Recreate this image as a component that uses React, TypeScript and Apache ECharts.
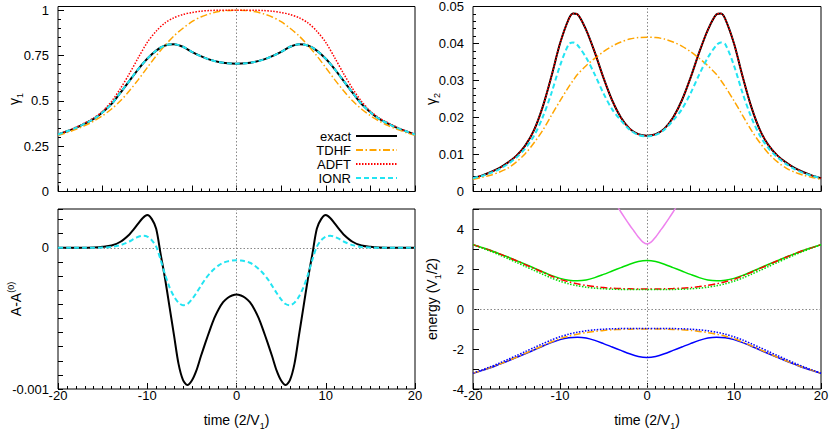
import React, { useEffect, useRef } from "react";
import * as echarts from "echarts";

const FONT = "Liberation Sans, Arial, Helvetica, sans-serif";

// ---------- time samples ----------
const timeGrid = [-20, -19, -18, -17, -16, -15, -14, -13, -12, -11, -10, -9, -8, -7, -6, -5, -4, -3, -2, -1, 0, 1, 2, 3, 4, 5, 6, 7, 8, 9, 10, 11, 12, 13, 14, 15, 16, 17, 18, 19, 20];
const timeGamma2 = [-20, -19, -18, -17, -16, -15, -14, -13, -12, -11, -10, -9, -8.5, -8, -7, -6, -5, -4, -3, -2, -1, 0, 1, 2, 3, 4, 5, 6, 7, 8, 8.5, 9, 10, 11, 12, 13, 14, 15, 16, 17, 18, 19, 20];
const timeDelta = [-20, -19, -18, -17, -16, -15, -14, -13, -12, -11.5, -11, -10.5, -10, -9.5, -9, -8.5, -8, -7.5, -7, -6.5, -6, -5.5, -5, -4.5, -4, -3.5, -3, -2.5, -2, -1.5, -1, -0.5, 0, 0.5, 1, 1.5, 2, 2.5, 3, 3.5, 4, 4.5, 5, 5.5, 6, 6.5, 7, 7.5, 8, 8.5, 9, 9.5, 10, 10.5, 11, 11.5, 12, 13, 14, 15, 16, 17, 18, 19, 20];
const timeViolet = [-3.5, -3, -2.5, -2, -1.5, -1, -0.5, 0, 0.5, 1, 1.5, 2, 2.5, 3, 3.5];

// ---------- panel 1: gamma_1 ----------
const gamma1Exact = [0.314, 0.332, 0.351, 0.374, 0.400, 0.437, 0.483, 0.545, 0.610, 0.675, 0.732, 0.777, 0.805, 0.812, 0.798, 0.770, 0.746, 0.727, 0.714, 0.707, 0.705, 0.707, 0.714, 0.727, 0.746, 0.770, 0.798, 0.812, 0.805, 0.777, 0.732, 0.675, 0.610, 0.545, 0.483, 0.437, 0.400, 0.374, 0.351, 0.332, 0.314];
const gamma1TDHF = [0.310, 0.325, 0.343, 0.363, 0.388, 0.418, 0.455, 0.500, 0.555, 0.617, 0.683, 0.748, 0.806, 0.858, 0.900, 0.936, 0.962, 0.980, 0.992, 0.998, 1.000, 0.998, 0.992, 0.980, 0.962, 0.936, 0.900, 0.858, 0.806, 0.748, 0.683, 0.617, 0.555, 0.500, 0.455, 0.418, 0.388, 0.363, 0.343, 0.325, 0.310];
const gamma1ADFT = [0.314, 0.333, 0.354, 0.378, 0.405, 0.443, 0.497, 0.568, 0.650, 0.738, 0.822, 0.884, 0.930, 0.958, 0.976, 0.987, 0.994, 0.998, 0.999, 1.000, 1.000, 1.000, 0.999, 0.998, 0.994, 0.987, 0.976, 0.958, 0.930, 0.884, 0.822, 0.738, 0.650, 0.568, 0.497, 0.443, 0.405, 0.378, 0.354, 0.333, 0.314];
const gamma1IONR = [0.314, 0.332, 0.351, 0.374, 0.400, 0.437, 0.483, 0.545, 0.610, 0.675, 0.732, 0.777, 0.805, 0.812, 0.798, 0.770, 0.746, 0.727, 0.714, 0.707, 0.705, 0.707, 0.714, 0.727, 0.746, 0.770, 0.798, 0.812, 0.805, 0.777, 0.732, 0.675, 0.610, 0.545, 0.483, 0.437, 0.400, 0.374, 0.351, 0.332, 0.314];

// ---------- panel 2: gamma_2 ----------
const gamma2Exact = [0.0036, 0.0043, 0.0052, 0.0063, 0.0078, 0.0097, 0.0124, 0.0165, 0.0228, 0.0310, 0.0400, 0.0466, 0.0481, 0.0479, 0.0437, 0.0376, 0.0307, 0.0246, 0.0200, 0.0170, 0.0155, 0.0151, 0.0155, 0.0170, 0.0200, 0.0246, 0.0307, 0.0376, 0.0437, 0.0479, 0.0481, 0.0466, 0.0400, 0.0310, 0.0228, 0.0165, 0.0124, 0.0097, 0.0078, 0.0063, 0.0052, 0.0043, 0.0036];
const gamma2TDHF = [0.0033, 0.0038, 0.0044, 0.0052, 0.0063, 0.0080, 0.0102, 0.0131, 0.0165, 0.0205, 0.0245, 0.0283, 0.0300, 0.0316, 0.0340, 0.0360, 0.0378, 0.0393, 0.0404, 0.0412, 0.0416, 0.0417, 0.0416, 0.0412, 0.0404, 0.0393, 0.0378, 0.0360, 0.0340, 0.0316, 0.0300, 0.0283, 0.0245, 0.0205, 0.0165, 0.0131, 0.0102, 0.0080, 0.0063, 0.0052, 0.0044, 0.0038, 0.0033];
const gamma2ADFT = [0.0036, 0.0043, 0.0052, 0.0063, 0.0078, 0.0097, 0.0124, 0.0165, 0.0228, 0.0310, 0.0400, 0.0466, 0.0481, 0.0479, 0.0437, 0.0376, 0.0307, 0.0246, 0.0200, 0.0170, 0.0155, 0.0151, 0.0155, 0.0170, 0.0200, 0.0246, 0.0307, 0.0376, 0.0437, 0.0479, 0.0481, 0.0466, 0.0400, 0.0310, 0.0228, 0.0165, 0.0124, 0.0097, 0.0078, 0.0063, 0.0052, 0.0043, 0.0036];
const gamma2IONR = [0.0036, 0.0042, 0.0050, 0.0060, 0.0074, 0.0092, 0.0116, 0.0150, 0.0200, 0.0265, 0.0340, 0.0398, 0.0403, 0.0396, 0.0362, 0.0316, 0.0265, 0.0222, 0.0192, 0.0167, 0.0153, 0.0149, 0.0153, 0.0167, 0.0192, 0.0222, 0.0265, 0.0316, 0.0362, 0.0396, 0.0403, 0.0398, 0.0340, 0.0265, 0.0200, 0.0150, 0.0116, 0.0092, 0.0074, 0.0060, 0.0050, 0.0042, 0.0036];

// ---------- panel 3: A - A(0) ----------
const deltaAExact = [0, 0, 0, 0.01e-4, 0.02e-4, 0.07e-4, 0.17e-4, 0.43e-4, 0.95e-4, 1.32e-4, 1.73e-4, 2.12e-4, 2.32e-4, 2.05e-4, 1.35e-4, -0.45e-4, -2.2e-4, -4.2e-4, -6.2e-4, -8.2e-4, -9.35e-4, -9.72e-4, -9.4e-4, -8.7e-4, -7.7e-4, -6.75e-4, -5.85e-4, -5.0e-4, -4.35e-4, -3.85e-4, -3.55e-4, -3.38e-4, -3.3e-4, -3.38e-4, -3.55e-4, -3.85e-4, -4.35e-4, -5.0e-4, -5.85e-4, -6.75e-4, -7.7e-4, -8.7e-4, -9.4e-4, -9.72e-4, -9.35e-4, -8.2e-4, -6.2e-4, -4.2e-4, -2.2e-4, -0.45e-4, 1.35e-4, 2.05e-4, 2.32e-4, 2.12e-4, 1.73e-4, 1.32e-4, 0.95e-4, 0.43e-4, 0.17e-4, 0.07e-4, 0.02e-4, 0.01e-4, 0, 0, 0];
const deltaAIONR = [0, 0, 0, 0, 0.01e-4, 0.02e-4, 0.06e-4, 0.19e-4, 0.45e-4, 0.63e-4, 0.78e-4, 0.85e-4, 0.80e-4, 0.55e-4, 0.08e-4, -0.85e-4, -1.9e-4, -2.8e-4, -3.45e-4, -3.88e-4, -4.07e-4, -3.98e-4, -3.65e-4, -3.2e-4, -2.7e-4, -2.22e-4, -1.82e-4, -1.5e-4, -1.24e-4, -1.06e-4, -0.96e-4, -0.9e-4, -0.88e-4, -0.9e-4, -0.96e-4, -1.06e-4, -1.24e-4, -1.5e-4, -1.82e-4, -2.22e-4, -2.7e-4, -3.2e-4, -3.65e-4, -3.98e-4, -4.07e-4, -3.88e-4, -3.45e-4, -2.8e-4, -1.9e-4, -0.85e-4, 0.08e-4, 0.55e-4, 0.80e-4, 0.85e-4, 0.78e-4, 0.63e-4, 0.45e-4, 0.19e-4, 0.06e-4, 0.02e-4, 0.01e-4, 0, 0, 0, 0];

// ---------- panel 4: energies ----------
const energyUpperExact = [3.22, 3.08, 2.94, 2.77, 2.60, 2.42, 2.24, 2.05, 1.86, 1.68, 1.53, 1.44, 1.41, 1.45, 1.57, 1.73, 1.90, 2.07, 2.24, 2.37, 2.42, 2.37, 2.24, 2.07, 1.90, 1.73, 1.57, 1.45, 1.41, 1.44, 1.53, 1.68, 1.86, 2.05, 2.24, 2.42, 2.60, 2.77, 2.94, 3.08, 3.22];
const energyUpperDashDot = [3.22, 3.07, 2.93, 2.76, 2.59, 2.41, 2.22, 2.03, 1.84, 1.65, 1.48, 1.36, 1.26, 1.18, 1.12, 1.07, 1.04, 1.02, 1.01, 1.00, 1.00, 1.00, 1.01, 1.02, 1.04, 1.07, 1.12, 1.18, 1.26, 1.36, 1.48, 1.65, 1.84, 2.03, 2.22, 2.41, 2.59, 2.76, 2.93, 3.07, 3.22];
const energyUpperDotted = [3.22, 3.05, 2.89, 2.71, 2.52, 2.33, 2.13, 1.93, 1.74, 1.55, 1.39, 1.26, 1.16, 1.09, 1.04, 1.01, 0.99, 0.98, 0.98, 0.98, 0.98, 0.98, 0.98, 0.98, 0.99, 1.01, 1.04, 1.09, 1.16, 1.26, 1.39, 1.55, 1.74, 1.93, 2.13, 2.33, 2.52, 2.71, 2.89, 3.05, 3.22];
const energyLowerExact = [-3.22, -3.08, -2.94, -2.77, -2.60, -2.42, -2.24, -2.05, -1.86, -1.68, -1.53, -1.44, -1.41, -1.45, -1.57, -1.73, -1.90, -2.07, -2.24, -2.37, -2.42, -2.37, -2.24, -2.07, -1.90, -1.73, -1.57, -1.45, -1.41, -1.44, -1.53, -1.68, -1.86, -2.05, -2.24, -2.42, -2.60, -2.77, -2.94, -3.08, -3.22];
const energyLowerDashDot = [-3.22, -3.07, -2.93, -2.76, -2.59, -2.41, -2.22, -2.03, -1.84, -1.65, -1.48, -1.36, -1.26, -1.18, -1.12, -1.07, -1.04, -1.02, -1.01, -1.00, -1.00, -1.00, -1.01, -1.02, -1.04, -1.07, -1.12, -1.18, -1.26, -1.36, -1.48, -1.65, -1.84, -2.03, -2.22, -2.41, -2.59, -2.76, -2.93, -3.07, -3.22];
const energyLowerDotted = [-3.22, -3.05, -2.89, -2.71, -2.52, -2.33, -2.13, -1.93, -1.74, -1.55, -1.39, -1.26, -1.16, -1.09, -1.04, -1.01, -0.99, -0.98, -0.98, -0.98, -0.98, -0.98, -0.98, -0.98, -0.99, -1.01, -1.04, -1.09, -1.16, -1.26, -1.39, -1.55, -1.74, -1.93, -2.13, -2.33, -2.52, -2.71, -2.89, -3.05, -3.22];
const energyViolet = [5.2, 4.85, 4.52, 4.2, 3.9, 3.6, 3.36, 3.25, 3.36, 3.6, 3.9, 4.2, 4.52, 4.85, 5.2];

const legendNames = ["exact", "TDHF", "ADFT", "IONR"];

const zip = (xs: number[], ys: number[]) => xs.map((x, i) => [x, ys[i]]);

const richStyles = {
  n: { fontFamily: FONT, fontSize: 14, color: "#000", lineHeight: 20 },
  sub: { fontFamily: FONT, fontSize: 9, color: "#000", lineHeight: 10, verticalAlign: "bottom" },
  sup: { fontFamily: FONT, fontSize: 9, color: "#000", lineHeight: 10, verticalAlign: "top" },
};

function lineSeries(name: string, data: number[][], color: string, width: number, type: any, idx: number) {
  return {
    type: "line",
    name,
    data,
    xAxisIndex: idx,
    yAxisIndex: idx,
    showSymbol: false,
    symbol: "none",
    smooth: 0.3,
    silent: true,
    clip: true,
    lineStyle: { color, width, type, cap: "butt" },
    itemStyle: { color },
    emphasis: { disabled: true },
    animation: false,
  };
}

function refSeries(idx: number, withZero: boolean) {
  const data: any[] = [{ xAxis: 0 }];
  if (withZero) data.push({ yAxis: 0 });
  return {
    type: "line",
    name: "ref" + idx,
    data: [],
    xAxisIndex: idx,
    yAxisIndex: idx,
    silent: true,
    markLine: {
      silent: true,
      z: 1,
      symbol: ["none", "none"],
      label: { show: false },
      lineStyle: { color: "#888", width: 1, type: [1.5, 2] },
      emphasis: { disabled: true },
      animation: false,
      data,
    },
  };
}

function xAxisDef(idx: number, bottom: boolean) {
  return {
    type: "value",
    gridIndex: idx,
    position: "bottom",
    min: -20,
    max: 20,
    interval: bottom ? 10 : 5,
    axisLine: { show: false, onZero: false },
    axisTick: { show: true, inside: true, length: 6, lineStyle: { color: "#000", width: 1 } },
    minorTick: { show: true, splitNumber: bottom ? 10 : 5, length: 3, lineStyle: { color: "#000", width: 1 } },
    splitLine: { show: false },
    minorSplitLine: { show: false },
    axisLabel: bottom
      ? { show: true, margin: 0, fontFamily: FONT, fontSize: 13, color: "#000" }
      : { show: false },
    name: bottom ? "{n|time (2/V}{sub|1}{n|)}" : "",
    nameLocation: "middle",
    nameGap: 21,
    nameMoveOverlap: false,
    nameTextStyle: { fontFamily: FONT, fontSize: 14, color: "#000", rich: richStyles },
  };
}

function yAxisDef(idx: number, opts: any) {
  return {
    type: "value",
    gridIndex: idx,
    position: "left",
    axisLine: { show: false, onZero: false },
    splitLine: { show: false },
    minorSplitLine: { show: false },
    nameLocation: "middle",
    nameRotate: 90,
    nameMoveOverlap: false,
    nameTextStyle: { fontFamily: FONT, fontSize: 14, color: "#000", rich: richStyles },
    ...opts,
  };
}

export default function App() {
  const ref = useRef<HTMLDivElement>(null);

  useEffect(() => {
    document.body.style.margin = "0";
    if (!ref.current) return;
    const chart = echarts.init(ref.current, null, { renderer: "svg" });

    const gridBase = { show: true, borderColor: "#000", borderWidth: 1, backgroundColor: "transparent", containLabel: false, outerBoundsMode: "none" };

    const option: any = {
      animation: false,
      backgroundColor: "#fff",
      textStyle: { fontFamily: FONT },
      grid: [
        { ...gridBase, left: 58, top: 6.5, width: 357, height: 185 },
        { ...gridBase, left: 473, top: 6.5, width: 348, height: 185 },
        { ...gridBase, left: 58, top: 209, width: 357, height: 180 },
        { ...gridBase, left: 473, top: 209, width: 348, height: 180 },
      ],
      legend: {
        data: legendNames,
        orient: "vertical",
        align: "right",
        right: 432,
        top: 129,
        padding: 0,
        itemWidth: 41,
        itemHeight: 10,
        itemGap: 0,
        selectedMode: false,
        itemStyle: { opacity: 0, borderWidth: 0 },
        textStyle: { fontFamily: FONT, fontSize: 13, color: "#000", lineHeight: 14 },
      },
      xAxis: [xAxisDef(0, false), xAxisDef(1, false), xAxisDef(2, true), xAxisDef(3, true)],
      yAxis: [
        yAxisDef(0, {
          min: 0,
          max: 1.02,
          interval: 0.25,
          name: "{n|γ}{sub|1}",
          nameGap: 34,
          axisTick: { show: true, inside: true, length: 6, lineStyle: { color: "#000" } },
          minorTick: { show: true, splitNumber: 5, length: 3, lineStyle: { color: "#000" } },
          axisLabel: {
            margin: 9,
            fontFamily: FONT,
            fontSize: 13,
            lineHeight: 12,
            color: "#000",
            formatter: (v: number) => (Math.abs(v * 4 - Math.round(v * 4)) < 1e-6 ? String(Number(v.toFixed(2))) : ""),
          },
        }),
        yAxisDef(1, {
          min: 0,
          max: 0.05,
          interval: 0.01,
          name: "{n|γ}{sub|2}",
          nameGap: 32,
          axisTick: { show: true, inside: true, length: 6, lineStyle: { color: "#000" } },
          minorTick: { show: true, splitNumber: 5, length: 3, lineStyle: { color: "#000" } },
          axisLabel: {
            margin: 9,
            fontFamily: FONT,
            fontSize: 13,
            lineHeight: 12,
            color: "#000",
            formatter: (v: number) => String(Number(v.toFixed(3))),
          },
        }),
        yAxisDef(2, {
          min: -0.001,
          max: 0.000275,
          interval: 0.0001,
          name: "{n|A-A}{sup|(0)}",
          nameGap: 32,
          axisTick: { show: true, inside: true, length: 5, lineStyle: { color: "#000" } },
          minorTick: { show: false },
          axisLabel: {
            margin: 9,
            fontFamily: FONT,
            fontSize: 13,
            color: "#000",
            formatter: (v: number) => (Math.abs(v) < 1e-9 ? "0" : Math.abs(v + 0.001) < 1e-9 ? "-0.001" : ""),
          },
        }),
        yAxisDef(3, {
          min: -4,
          max: 5,
          interval: 1,
          name: "{n|energy (V}{sub|1}{n|/2)}",
          nameGap: 31,
          axisTick: { show: true, inside: true, length: 6, lineStyle: { color: "#000" } },
          minorTick: { show: false },
          axisLabel: {
            margin: 9,
            fontFamily: FONT,
            fontSize: 13,
            color: "#000",
            formatter: (v: number) => (Math.round(v) % 2 === 0 ? String(Math.round(v)) : ""),
          },
        }),
      ],
      series: [
        refSeries(0, false),
        refSeries(1, false),
        refSeries(2, true),
        refSeries(3, true),
        // panel 1
        lineSeries("exact", zip(timeGrid, gamma1Exact), "#000000", 2, "solid", 0),
        lineSeries("TDHF", zip(timeGrid, gamma1TDHF), "#ffa500", 1.5, [7, 2.5, 1.5, 2.5], 0),
        lineSeries("ADFT", zip(timeGrid, gamma1ADFT), "#ff0000", 1.5, [1.5, 1.5], 0),
        lineSeries("IONR", zip(timeGrid, gamma1IONR), "#22e4f2", 2, [5, 3], 0),
        // panel 2
        lineSeries("exact", zip(timeGamma2, gamma2Exact), "#000000", 2, "solid", 1),
        lineSeries("TDHF", zip(timeGamma2, gamma2TDHF), "#ffa500", 1.5, [7, 2.5, 1.5, 2.5], 1),
        lineSeries("ADFT", zip(timeGamma2, gamma2ADFT), "#ff0000", 1.5, [1.5, 1.5], 1),
        lineSeries("IONR", zip(timeGamma2, gamma2IONR), "#22e4f2", 2, [5, 3], 1),
        // panel 3
        lineSeries("exact", zip(timeDelta, deltaAExact), "#000000", 2, "solid", 2),
        lineSeries("IONR", zip(timeDelta, deltaAIONR), "#22e4f2", 2, [5, 3], 2),
        // panel 4
        lineSeries("upper exact", zip(timeGrid, energyUpperExact), "#00e000", 1.5, "solid", 3),
        lineSeries("upper dash-dot", zip(timeGrid, energyUpperDashDot), "#ff0000", 1.5, [7, 2.5, 1.5, 2.5], 3),
        lineSeries("upper dotted", zip(timeGrid, energyUpperDotted), "#00e000", 1.5, [1.5, 1.5], 3),
        lineSeries("lower exact", zip(timeGrid, energyLowerExact), "#0000ff", 1.5, "solid", 3),
        lineSeries("lower dash-dot", zip(timeGrid, energyLowerDashDot), "#ffa500", 1.5, [7, 2.5, 1.5, 2.5], 3),
        lineSeries("lower dotted", zip(timeGrid, energyLowerDotted), "#0000ff", 1.5, [1.5, 1.5], 3),
        lineSeries("excited", zip(timeViolet, energyViolet), "#ee82ee", 1.5, "solid", 3),
      ],
    };

    chart.setOption(option);
    return () => chart.dispose();
  }, []);

  return <div ref={ref} style={{ position: "fixed", left: 0, top: 0, width: 830, height: 436 }} />;
}
